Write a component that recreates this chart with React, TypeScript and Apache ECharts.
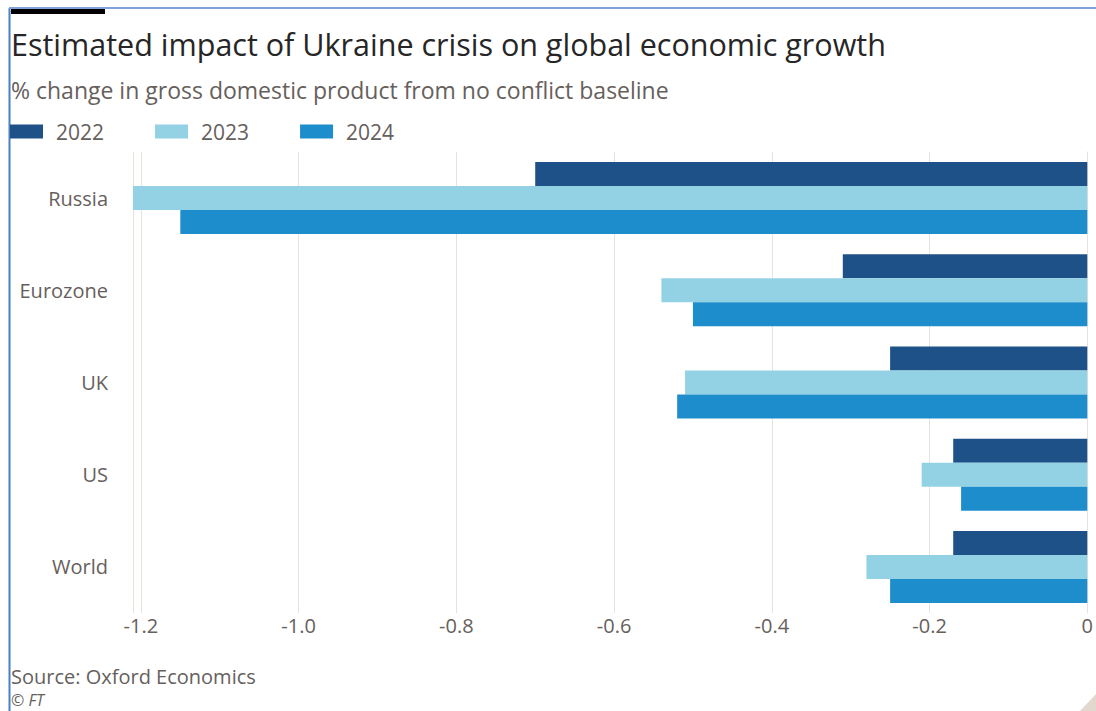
import React, { useEffect, useRef } from "react";
import * as echarts from "echarts";

const categories = ["Russia", "Eurozone", "UK", "US", "World"];
const years = ["2022", "2023", "2024"];
const values2022 = [-0.70, -0.31, -0.25, -0.17, -0.17];
const values2023 = [-1.21, -0.54, -0.51, -0.21, -0.28];
const values2024 = [-1.15, -0.50, -0.52, -0.16, -0.25];
const tickValues = [-1.2, -1.0, -0.8, -0.6, -0.4, -0.2, 0];
const colors = ["#1f5189", "#93d2e5", "#1e8dcb"];

const FONT = "'Open Sans', 'Noto Sans', sans-serif";

export default function App() {
  const ref = useRef<HTMLDivElement>(null);
  useEffect(() => {
    if (!ref.current) return;
    const chart = echarts.init(ref.current, null, { renderer: "svg", width: 1096, height: 711 });
    const seriesValues = [values2022, values2023, values2024];
    chart.setOption({
      animation: false,
      backgroundColor: "#ffffff",
      textStyle: { fontFamily: FONT },
      title: [
        {
          text: "Estimated impact of Ukraine crisis on global economic growth",
          left: 6,
          top: 23,
          textStyle: { fontFamily: FONT, fontSize: 30.5, fontWeight: "normal", color: "#262626" },
        },
        {
          text: "% change in gross domestic product from no conflict baseline",
          left: 6,
          top: 73,
          textStyle: { fontFamily: FONT, fontSize: 23, fontWeight: "normal", color: "#66605c" },
        },
        {
          text: "Source: Oxford Economics",
          left: 6,
          top: 661,
          textStyle: { fontFamily: FONT, fontSize: 20, fontWeight: "normal", color: "#66605c" },
        },
        {
          text: "© FT",
          left: 6,
          top: 687,
          textStyle: { fontFamily: FONT, fontSize: 16, fontWeight: "normal", fontStyle: "italic", color: "#66605c" },
        },
      ],
      legend: {
        left: 10,
        top: 121,
        padding: 0,
        itemWidth: 33,
        itemHeight: 14,
        itemGap: 51,
        icon: "rect",
        data: years,
        textStyle: { fontFamily: FONT, fontSize: 21, color: "#66605c", padding: [0, 0, 0, 8] },
      },
      grid: { left: 133, right: 3, top: 152, bottom: 98, containLabel: false },
      xAxis: {
        type: "value",
        min: -1.21,
        max: 0,
        axisLine: { show: false },
        axisTick: { show: false },
        splitLine: { show: true, lineStyle: { color: "#e8e2dd", width: 1 } },
        axisLabel: {
          customValues: tickValues,
          margin: 2,
          fontFamily: FONT,
          fontSize: 20,
          color: "#66605c",
          formatter: (v: number) => (Math.abs(v) < 1e-9 ? "0" : v.toFixed(1)),
        },
      },
      yAxis: {
        type: "category",
        data: categories,
        inverse: true,
        axisLine: { show: true, lineStyle: { color: "#e8e2dd", width: 1 } },
        axisTick: { show: true, alignWithLabel: true, length: 18, lineStyle: { color: "#e8e2dd" } },
        axisLabel: { margin: 25, fontFamily: FONT, fontSize: 20, color: "#66605c" },
      },
      series: years.map((y, i) => ({
        name: y,
        type: "bar",
        data: seriesValues[i],
        barWidth: 24,
        barGap: "0%",
        itemStyle: { color: colors[i] },
      })),
      graphic: [
        { type: "line", shape: { x1: 9.5, y1: 8, x2: 9.5, y2: 711 }, style: { stroke: "#4a7fc1", lineWidth: 2 } },
        { type: "line", shape: { x1: 9, y1: 8, x2: 1096, y2: 8 }, style: { stroke: "#7fa3d6", lineWidth: 2 } },
        { type: "rect", shape: { x: 11, y: 9, width: 94, height: 5 }, style: { fill: "#000000" } },
        { type: "polygon", shape: { points: [[1096, 694], [1096, 711], [1080, 711]] }, style: { fill: "#e2d8ce" } },
      ],
    });
    return () => chart.dispose();
  }, []);
  return (
    <div
      ref={ref}
      style={{ position: "fixed", left: 0, top: 0, width: 1096, height: 711 }}
    />
  );
}
